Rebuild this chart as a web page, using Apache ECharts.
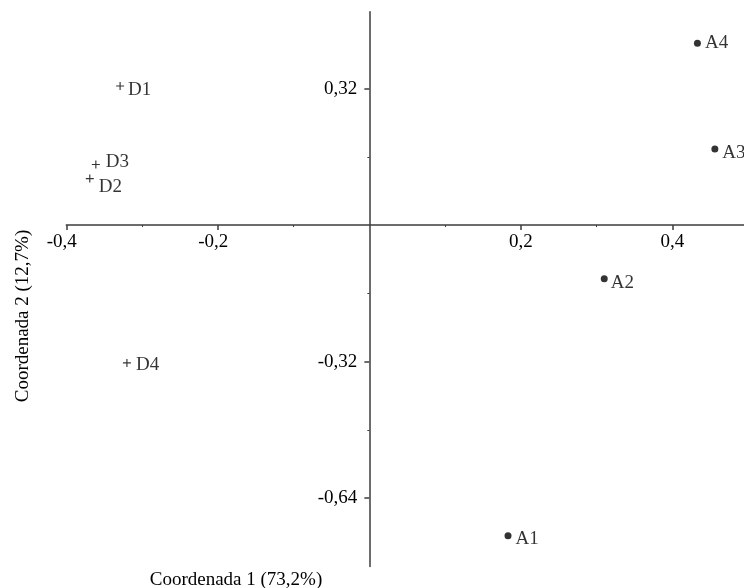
<!DOCTYPE html>
<html>
<head>
<meta charset="utf-8">
<script src="https://cdn.jsdelivr.net/npm/echarts@6/dist/echarts.min.js"></script>
<style>
  html, body { margin: 0; padding: 0; background: #fff; }
  #chart { width: 744px; height: 588px; }
</style>
</head>
<body>
<div id="chart"></div>
<script>
// Principal coordinates: D points (plus markers) and A points (dots)
const dNames = ['D1', 'D2', 'D3', 'D4'];
const dX = [-0.329, -0.369, -0.361, -0.320];
const dY = [0.326, 0.109, 0.142, -0.323];

const aNames = ['A1', 'A2', 'A3', 'A4'];
const aX = [0.183, 0.310, 0.456, 0.433];
const aY = [-0.728, -0.126, 0.178, 0.426];

// Axis ranges, ticks and labels
const xRange = [-0.4, 0.5];
const yRange = [-0.8, 0.5];
const xTicks = [-0.4, -0.2, 0.2, 0.4];
const xMinorTicks = [-0.3, -0.1, 0.1, 0.3];
const yTicks = [-0.64, -0.32, 0.32];
const yMinorTicks = [-0.48, -0.16, 0.16];

const xName = 'Coordenada 1 (73,2%)';
const yName = 'Coordenada 2 (12,7%)';

// Small nudges for the point labels so they sit clear of each other
const labelShift = {
  D1: [0, 4], D2: [1, 8], D3: [2, -2], D4: [1, 2],
  A1: [0, 3], A2: [-1, 4], A3: [0, 4], A4: [0, 0]
};

const FONT = 'Liberation Serif';
const TEXT = '#000';
const AXIS = '#3c3c3c';
const plusPath = 'path://M3,0H4V3H7V4H4V7H3V4H0V3H3Z';

// Plot area; the axes cross at the origin
const G = { left: 66.3, top: 11.7, width: 681.9, height: 554.8 };
const xPerUnit = G.width / (xRange[1] - xRange[0]);
const yPerUnit = G.height / (yRange[1] - yRange[0]);
// shift each axis from the plot edge onto the other axis's zero
const xAxisOffset = yRange[0] * yPerUnit;   // bottom edge up to y = 0
const yAxisOffset = xRange[0] * xPerUnit;   // left edge across to x = 0

const decimalComma = v => String(v).replace('.', ',');
// on the horizontal axis the minus sign hangs left of the centred digits
const xTickLabel = v => v < 0 ? '{neg|' + decimalComma(v) + '}' : decimalComma(v);

function points(names, xs, ys) {
  return names.map((n, i) => ({
    name: n,
    value: [xs[i], ys[i]],
    label: { offset: labelShift[n] }
  }));
}

const pointLabel = {
  show: true,
  position: 'right',
  distance: 4,
  formatter: '{b}',
  color: TEXT,
  fontFamily: FONT,
  fontSize: 19
};

function mainAxis(range, interval, ticks, isX) {
  return {
    type: 'value',
    min: range[0], max: range[1], interval: interval,
    position: isX ? 'bottom' : 'left',
    offset: isX ? xAxisOffset : yAxisOffset,
    axisLine: { show: true, onZero: false, lineStyle: { color: AXIS, width: 1.5 } },
    axisTick: { show: true, length: 5, customValues: ticks, lineStyle: { color: AXIS, width: 1.5 } },
    axisLabel: {
      show: true, customValues: ticks,
      formatter: isX ? xTickLabel : decimalComma,
      margin: isX ? 7 : 12, color: TEXT, fontFamily: FONT, fontSize: 19,
      rich: { neg: { color: TEXT, fontFamily: FONT, fontSize: 19, padding: [0, 9, 0, 0] } }
    },
    splitLine: { show: false }
  };
}

function minorAxis(range, interval, ticks, isX) {
  return {
    type: 'value',
    min: range[0], max: range[1], interval: interval,
    position: isX ? 'bottom' : 'left',
    offset: isX ? xAxisOffset : yAxisOffset,
    axisLine: { show: false, onZero: false },
    axisTick: { show: true, length: 2, customValues: ticks, lineStyle: { color: AXIS, width: 1 } },
    axisLabel: { show: false },
    splitLine: { show: false }
  };
}

const chart = echarts.init(document.getElementById('chart'), null, { renderer: 'canvas' });

chart.setOption({
  animation: false,
  backgroundColor: '#fff',
  grid: {
    left: G.left, top: G.top, width: G.width, height: G.height,
    containLabel: false, outerBoundsMode: 'none'
  },
  xAxis: [
    mainAxis(xRange, 0.1, xTicks, true),
    minorAxis(xRange, 0.1, xMinorTicks, true)
  ],
  yAxis: [
    mainAxis(yRange, 0.16, yTicks, false),
    minorAxis(yRange, 0.16, yMinorTicks, false)
  ],
  graphic: [
    {
      type: 'text', x: 236, y: 580, silent: true,
      style: { text: xName, fill: TEXT, font: '19px "Liberation Serif"', align: 'center', verticalAlign: 'middle' }
    },
    {
      type: 'text', x: 23, y: 316, rotation: Math.PI / 2, silent: true,
      style: { text: yName, fill: TEXT, font: '19px "Liberation Serif"', align: 'center', verticalAlign: 'middle' }
    }
  ],
  series: [
    {
      type: 'scatter', name: 'D',
      xAxisIndex: 0, yAxisIndex: 0,
      symbol: plusPath, symbolSize: 8,
      itemStyle: { color: '#000' },
      label: pointLabel,
      emphasis: { disabled: true },
      data: points(dNames, dX, dY)
    },
    {
      type: 'scatter', name: 'A',
      xAxisIndex: 0, yAxisIndex: 0,
      symbol: 'circle', symbolSize: 7,
      itemStyle: { color: '#000' },
      label: pointLabel,
      emphasis: { disabled: true },
      data: points(aNames, aX, aY)
    }
  ]
});
</script>
</body>
</html>
